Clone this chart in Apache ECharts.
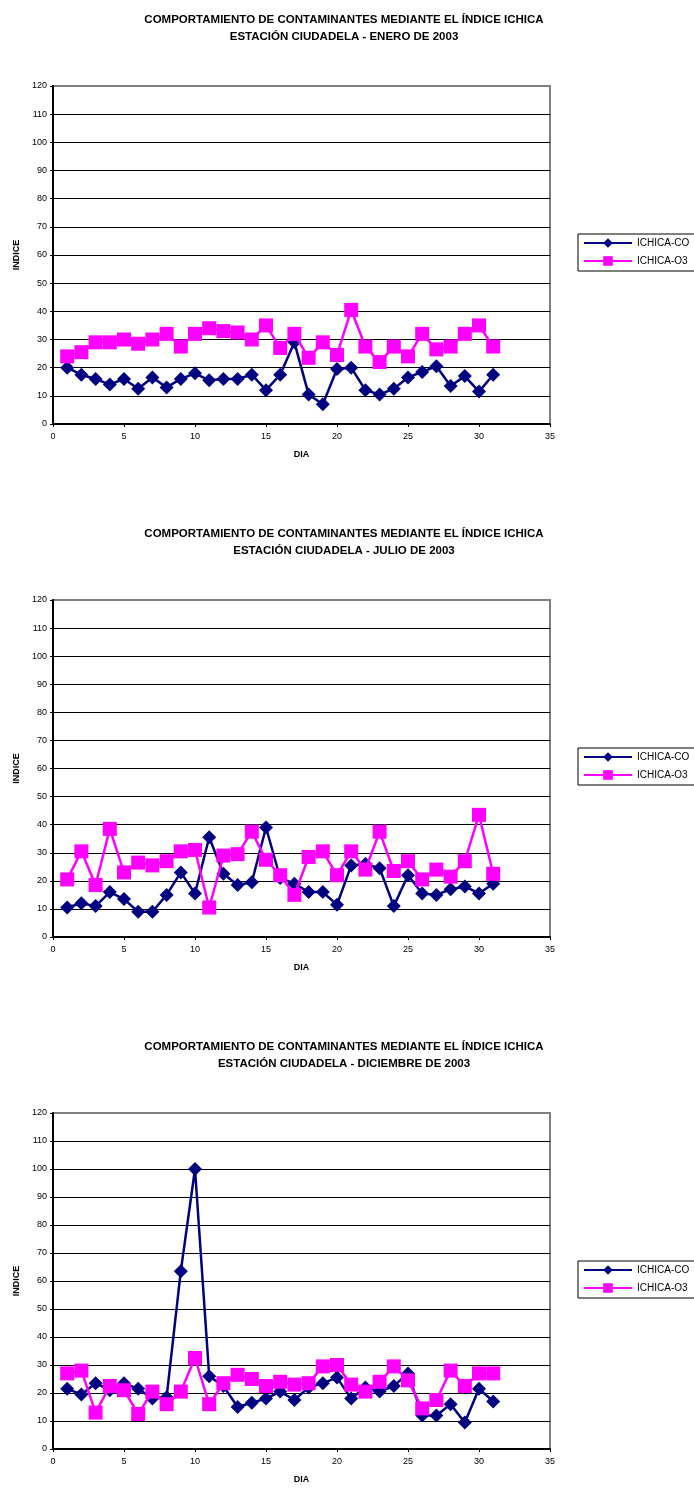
<!DOCTYPE html>
<html>
<head>
<meta charset="utf-8">
<script src="https://cdn.jsdelivr.net/npm/echarts@6/dist/echarts.min.js"></script>
<style>
html,body{margin:0;padding:0;background:#fff;}
#c{width:694px;height:1489px;}
</style>
</head>
<body>
<div id="c"></div>
<script>
const days = [1,2,3,4,5,6,7,8,9,10,11,12,13,14,15,16,17,18,19,20,21,22,23,24,25,26,27,28,29,30,31];
const seriesNames = ['ICHICA-CO', 'ICHICA-O3'];
const titles = [
  'COMPORTAMIENTO DE CONTAMINANTES MEDIANTE EL ÍNDICE ICHICA\nESTACIÓN CIUDADELA - ENERO DE 2003',
  'COMPORTAMIENTO DE CONTAMINANTES MEDIANTE EL ÍNDICE ICHICA\nESTACIÓN CIUDADELA - JULIO DE 2003',
  'COMPORTAMIENTO DE CONTAMINANTES MEDIANTE EL ÍNDICE ICHICA\nESTACIÓN CIUDADELA - DICIEMBRE DE 2003'
];
const xAxisName = 'DIA';
const yAxisName = 'INDICE';

const eneroCO = [20,17.5,16,14,16,12.5,16.5,13,16,18,15.5,16,16,17.5,12,17.5,29,10.5,7,19.5,20,12,10.5,12.5,16.5,18.5,20.5,13.5,17,11.5,17.5];
const eneroO3 = [24,25.5,29,29,30,28.5,30,32,27.5,32,34,33,32.5,30,35,27,32,23.5,29,24.5,40.5,27.5,22,27.5,24,32,26.5,27.5,32,35,27.5];

const julioCO = [10.5,12,11,16,13.5,9,9,15,23,15.5,35.5,22.5,18.5,19.5,39,21,19,16,16,11.5,25.5,26,24.5,11,22,15.5,15,17,18,15.5,19];
const julioO3 = [20.5,30.5,18.5,38.5,23,26.5,25.5,27,30.5,31,10.5,29,29.5,37.5,27.5,22,15,28.5,30.5,22,30.5,24,37.5,23.5,27,20.5,24,21.5,27,43.5,22.5];

const dicCO = [21.5,19.5,23.5,21,23.5,21.5,18,18.5,63.5,100,26,22.5,15,16.5,18,20.5,17.5,22,23.5,25.5,18,22,20.5,22.5,27,12,12,16,9.5,21.5,17];
const dicO3 = [27,28,13,22.5,21,12.5,20.5,16,20.5,32.5,16,23.5,26.5,25,22.5,24,23,23.5,29.5,30,23,20.5,24,29.5,24.5,14.5,17.5,28,22.5,27,27];

const datasets = [[eneroCO, eneroO3],[julioCO, julioO3],[dicCO, dicO3]];

const FONT = 'Liberation Sans, Arial, sans-serif';
const gridTops = [86, 600, 1113];
const gridHeights = [338, 337, 336];
const titleTops = [6, 520, 1033];
const legendTops = [234, 748, 1261];
const splitColors = ['#000','#000','#000','#000','#000','#000','#000','#000','#000','#000','#000','#000','#808080'];

const option = {
  animation: false,
  backgroundColor: '#fff',
  title: [], grid: [], xAxis: [], yAxis: [], legend: [], series: []
};

for (let i = 0; i < 3; i++) {
  option.title.push({
    text: titles[i], left: 339, top: titleTops[i], textAlign: 'center',
    textStyle: {fontFamily: FONT, fontSize: 11.5, fontWeight: 'bold', color: '#000', lineHeight: 17}
  });
  option.grid.push({
    left: 53, width: 497, top: gridTops[i], height: gridHeights[i],
    show: true, borderColor: '#808080', borderWidth: 2, backgroundColor: '#fff'
  });
  option.xAxis.push({
    type: 'value', gridIndex: i, min: 0, max: 35, interval: 5,
    name: xAxisName, nameLocation: 'middle', nameGap: 26,
    nameTextStyle: {fontFamily: FONT, fontSize: 9, fontWeight: 'bold', color: '#000'},
    axisLine: {show: true, onZero: false, lineStyle: {color: '#000', width: 2}},
    axisTick: {show: true, length: 3, lineStyle: {color: '#000', width: 1}},
    axisLabel: {fontFamily: FONT, fontSize: 9, color: '#000', margin: 8},
    splitLine: {show: false}
  });
  option.yAxis.push({
    type: 'value', gridIndex: i, min: 0, max: 120, interval: 10,
    name: yAxisName, nameLocation: 'middle', nameGap: 32, nameRotate: 90,
    nameTextStyle: {fontFamily: FONT, fontSize: 9, fontWeight: 'bold', color: '#000'},
    axisLine: {show: true, lineStyle: {color: '#000', width: 2}},
    axisTick: {show: true, length: 3, lineStyle: {color: '#000', width: 1}},
    axisLabel: {fontFamily: FONT, fontSize: 9, color: '#000', margin: 6},
    splitLine: {show: true, lineStyle: {color: splitColors, width: 1}}
  });
  option.legend.push({
    left: 578, top: legendTops[i], orient: 'vertical',
    data: seriesNames,
    itemWidth: 48, itemHeight: 12, itemGap: 8,
    padding: [4, 6, 5, 5],
    borderColor: '#000', borderWidth: 1, backgroundColor: '#fff',
    textStyle: {fontFamily: FONT, fontSize: 10, color: '#000'},
    selectedMode: false
  });
  const [co, o3] = datasets[i];
  option.series.push({
    name: seriesNames[0], type: 'line', xAxisIndex: i, yAxisIndex: i,
    data: days.map((d, k) => [d, co[k]]),
    symbol: 'diamond', symbolSize: [14, 14], showAllSymbol: true,
    lineStyle: {color: '#000080', width: 2.5},
    itemStyle: {color: '#000080'}, z: 3
  });
  option.series.push({
    name: seriesNames[1], type: 'line', xAxisIndex: i, yAxisIndex: i,
    data: days.map((d, k) => [d, o3[k]]),
    symbol: 'rect', symbolSize: 14, showAllSymbol: true,
    lineStyle: {color: '#FF00FF', width: 2.5},
    itemStyle: {color: '#FF00FF'}, z: 4
  });
}

const chart = echarts.init(document.getElementById('c'), null, {renderer: 'canvas'});
chart.setOption(option);
</script>
</body>
</html>
